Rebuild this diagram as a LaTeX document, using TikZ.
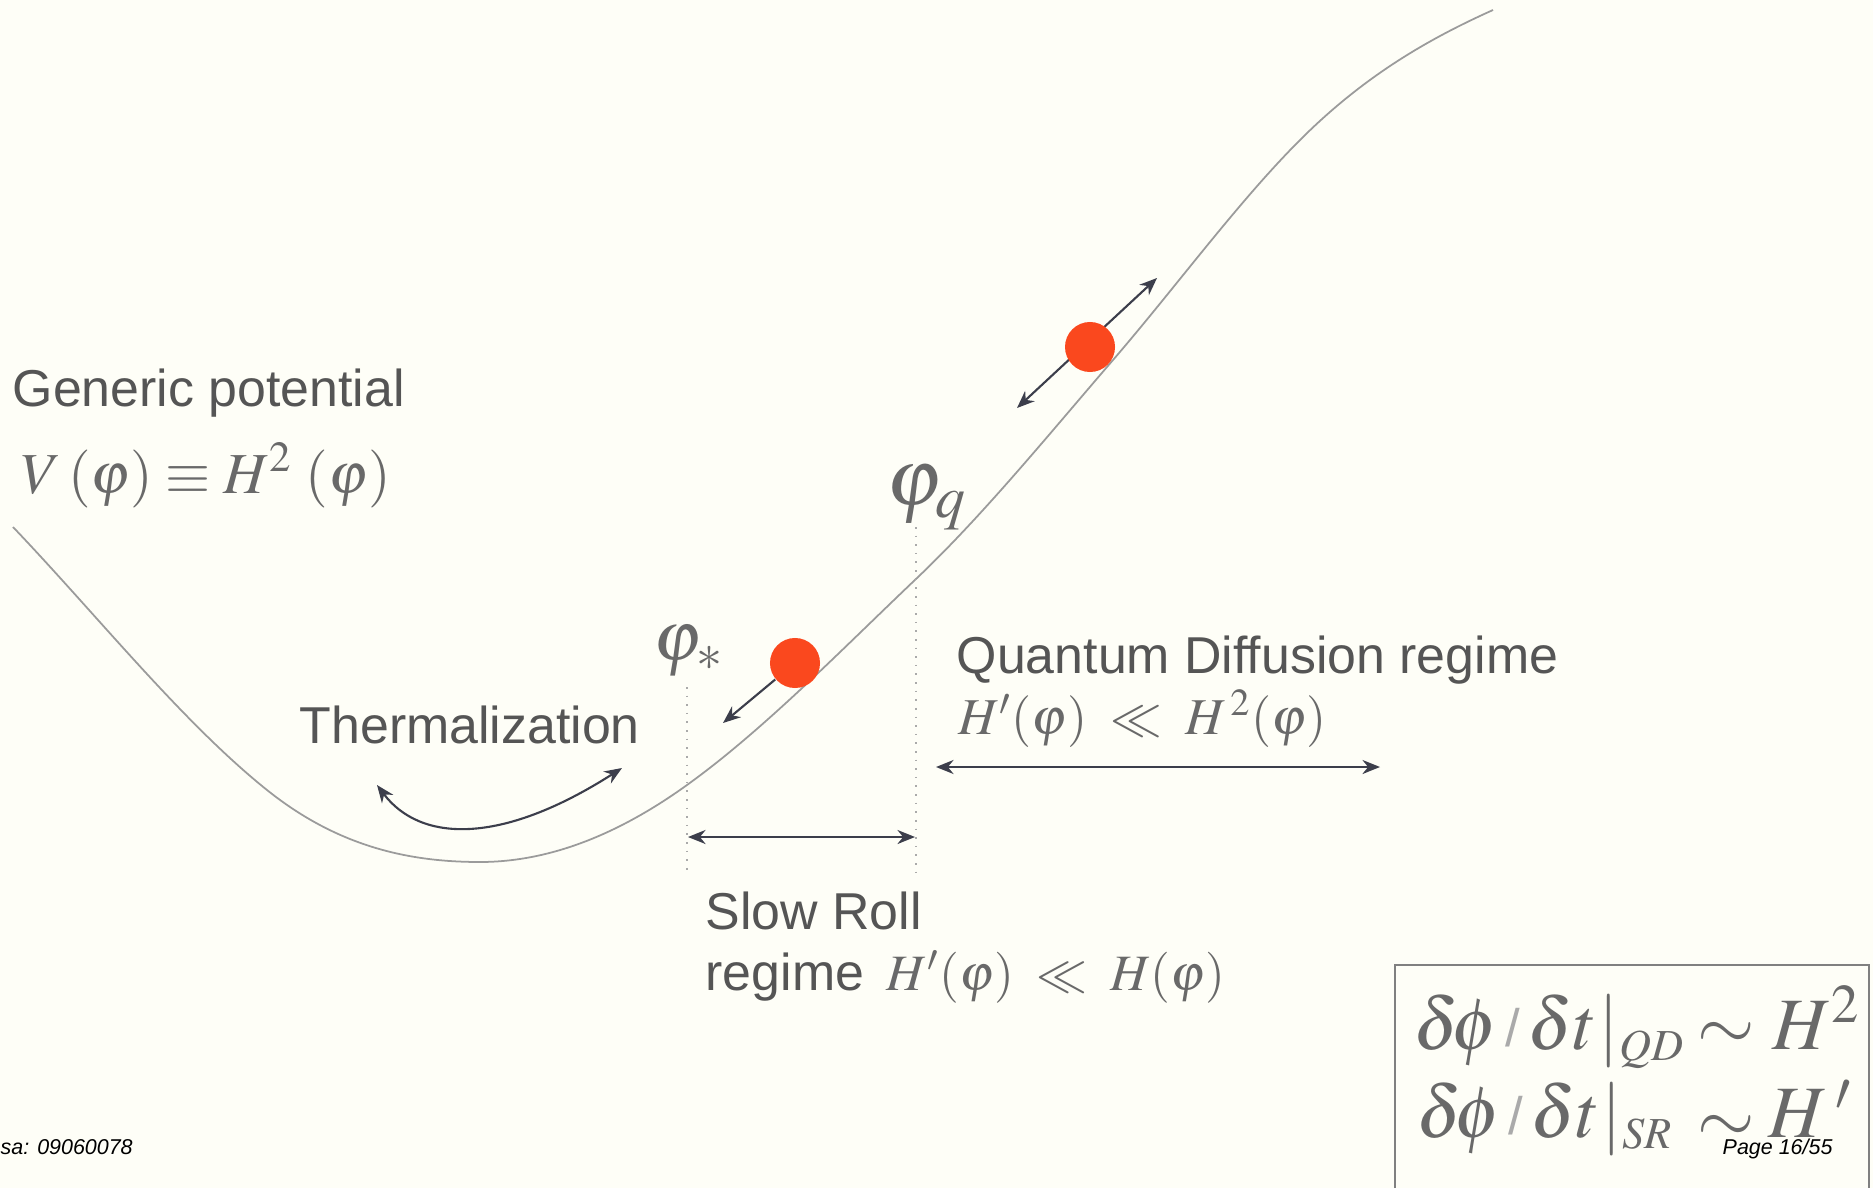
\documentclass[tikz,border=0pt]{standalone}
\usepackage{mathptmx}
\usepackage{fontspec}
\setmainfont{Liberation Sans}
\usetikzlibrary{arrows.meta}
\definecolor{bg}{RGB}{254,254,247}
\definecolor{txt}{RGB}{85,85,85}
\definecolor{mth}{RGB}{105,105,105}
\definecolor{crv}{RGB}{155,155,155}
\definecolor{arr}{RGB}{60,62,75}
\definecolor{ballc}{RGB}{250,72,30}
\definecolor{guidec}{RGB}{170,170,170}
\begin{document}
\begin{tikzpicture}[x=0.01cm,y=-0.01cm,
  lbl/.style={anchor=base west, inner sep=0, text=txt, font=\fontsize{14.75}{17}\selectfont},
  mlbl/.style={anchor=base west, inner sep=0, text=mth},
  bx/.style={anchor=base west, inner sep=0, text=mth, font=\fontsize{21}{24}\selectfont},
  dbl/.style={{Stealth[length=5pt,width=4pt]}-{Stealth[length=5pt,width=4pt]}, draw=arr, line width=0.6pt},
  sgl/.style={-{Stealth[length=5pt,width=4pt]}, draw=arr, line width=0.6pt},
  guide/.style={draw=guidec, dotted, line width=0.45pt},
  ballst/.style={circle, fill=ballc, inner sep=0, minimum size=0.5cm},
  small/.style={anchor=base west, inner sep=0, text=black, font=\fontsize{6.1}{7}\selectfont\itshape}]
\useasboundingbox (0,0) rectangle (1873,1188);
\fill[bg] (0,0) rectangle (1873,1188);

% potential curve
\draw[crv, line width=0.5pt]
  (13,527) .. controls (97.7,615.9) and (182.3,722.2) .. (267,790)
  .. controls (338,846.8) and (409,862) .. (480,862)
  .. controls (549,862) and (618,834.7) .. (687,785)
  .. controls (763.7,729.8) and (840.3,650.9) .. (917,578)
  .. controls (982.3,516) and (1047.7,435.8) .. (1113,360)
  .. controls (1175.3,287.7) and (1237.7,202.3) .. (1300,140)
  .. controls (1364.3,75.7) and (1428.7,38.9) .. (1493,10);

% labels
\node[lbl] (gen) at (12,406) {Generic potential};
\node[mlbl, font=\fontsize{16.5}{20}\selectfont] (veq) at (21,493) {$V\,(\varphi)\equiv H^{2}\;(\varphi)$};
\node[lbl] (therm) at (299,743) {Thermalization};
\node[lbl] (qd) at (956,673) {Quantum Diffusion regime};
\node[mlbl, font=\fontsize{14.7}{18}\selectfont] (qdeq) at (958,734) {$H'(\varphi)\;\ll\;H^{\,2}(\varphi)$};
\node[lbl] (sr1) at (705,929) {Slow Roll};
\node[lbl] (sr2) at (705,990) {regime};
\node[mlbl, font=\fontsize{14.5}{18}\selectfont] (sreq) at (886,990) {$H'(\varphi)\;\ll\;H(\varphi)$};
\node[mlbl, font=\fontsize{23}{26}\selectfont] (phq) at (886,505) {$\varphi_{q}$};
\node[mlbl, font=\fontsize{20}{24}\selectfont] (phs) at (653,660) {$\varphi_{*}$};

% guide lines
\coordinate (s0) at (687,687); \coordinate (s1) at (687,875);
\coordinate (q0) at (916,527); \coordinate (q1) at (916,877);
\draw[guide] (s0) -- (s1);
\draw[guide] (q0) -- (q1);

% regime arrows
\coordinate (srL) at (688,837); \coordinate (srR) at (915,837);
\draw[dbl] (srL) -- (srR);
\coordinate (qdL) at (936,767); \coordinate (qdR) at (1380,767);
\draw[dbl] (qdL) -- (qdR);

% thermalization arrow
\coordinate (tL) at (377,785); \coordinate (tR) at (622,768);
\draw[dbl] (tL) .. controls (420,842) and (500,846) .. (tR);

% ball 1 (slow roll)
\node[ballst] (b1) at (795,663) {};
\coordinate (b1t) at (723,723);
\draw[sgl] (b1) -- (b1t);

% ball 2 (quantum diffusion)
\coordinate (b2lo) at (1017,408); \coordinate (b2hi) at (1157,278);
\draw[dbl] (b2lo) -- (b2hi);
\node[ballst] (b2) at (1090,347) {};

% box
\draw[draw=gray, line width=0.7pt] (1395,1188) -- (1395,965) -- (1869,965) -- (1869,1188);
\node[bx] (r1a) at (1413,1049) {$\delta\!\phi$};
\node[bx, text=guidec, font=\fontsize{15}{18}\selectfont] (r1s) at (1505,1046) {/};
\node[bx] (r1b) at (1527,1049) {$\delta t$};
\node[bx] (r1c) at (1598,1049) {$|_{\scriptscriptstyle QD}$};
\node[bx] (r1d) at (1697,1049) {$\sim$};
\node[bx] (r1e) at (1772,1049) {$H^{2}$};
\node[bx] (r2a) at (1416,1137) {$\delta\!\phi$};
\node[bx, text=guidec, font=\fontsize{15}{18}\selectfont] (r2s) at (1508,1134) {/};
\node[bx] (r2b) at (1530,1137) {$\delta t$};
\node[bx] (r2c) at (1601,1137) {$|_{\scriptscriptstyle SR}$};
\node[bx] (r2d) at (1697,1142) {$\sim$};
\node[bx] (r2e) at (1768,1137) {$H\,'$};

% footer
\node[small] (pg) at (1722,1154) {Page 16/55};
\node[small] (pirsa) at (0,1154) {sa: 09060078};
\end{tikzpicture}
\end{document}
